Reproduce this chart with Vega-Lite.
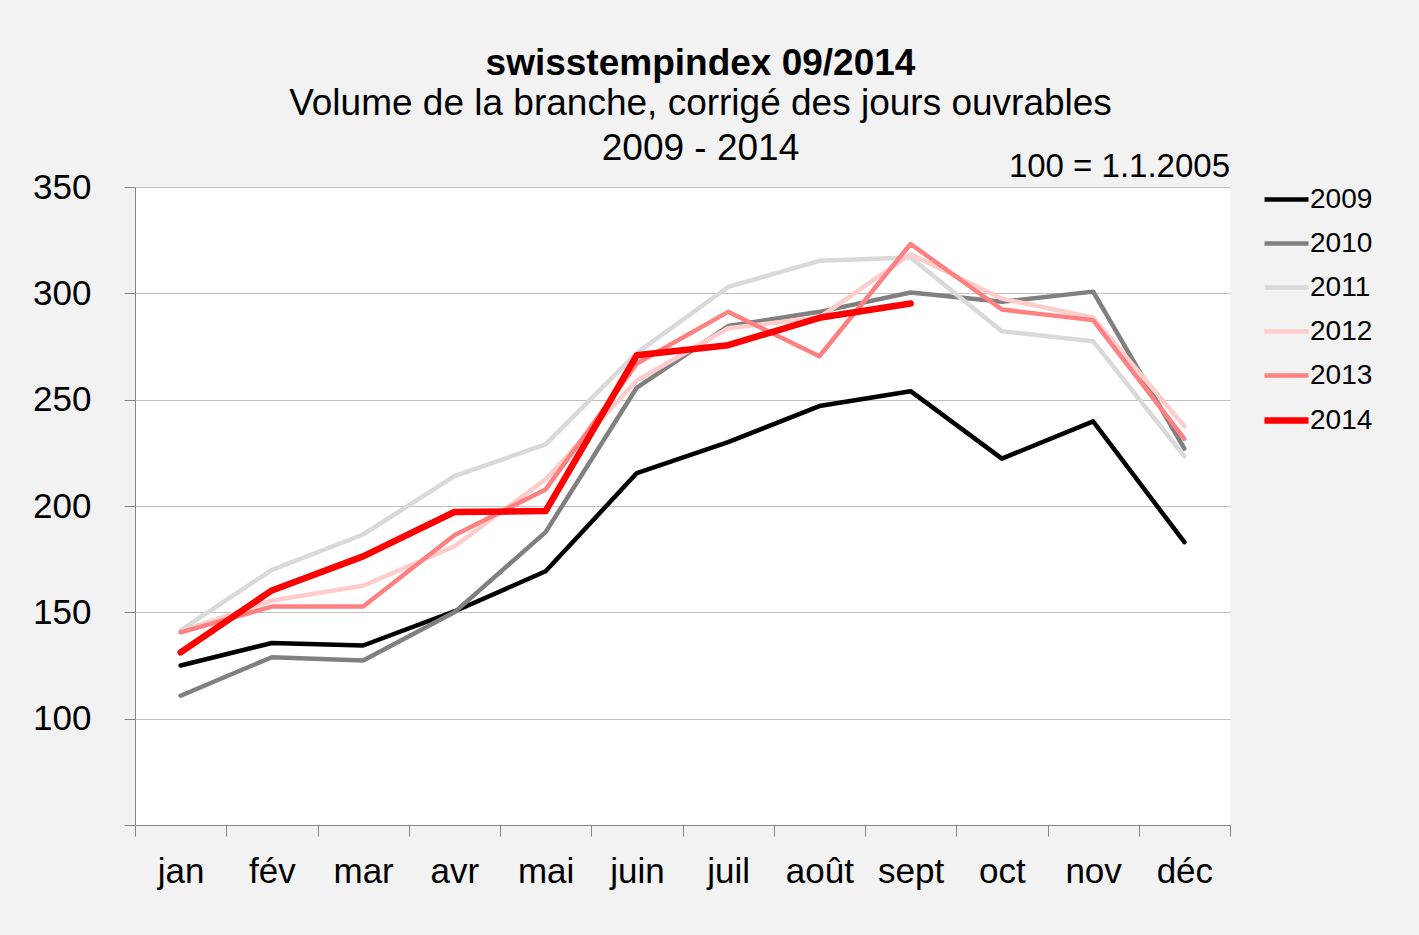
{
  "$schema": "https://vega.github.io/schema/vega-lite/v6.json",
  "autosize": {"type": "none"},
  "padding": {"left": 135, "top": 187, "right": 189, "bottom": 110},
  "width": 1095,
  "height": 638,
  "background": "#f2f2f2",
  "title": {
    "text": "swisstempindex 09/2014",
    "subtitle": ["Volume de la branche, corrigé des jours ouvrables", "2009 - 2014"],
    "fontSize": 37,
    "fontWeight": "bold",
    "font": "Liberation Sans",
    "subtitleFont": "Liberation Sans",
    "subtitleFontSize": 37,
    "subtitleLineHeight": 45,
    "subtitlePadding": 3,
    "color": "#000000",
    "subtitleColor": "#000000",
    "anchor": "middle",
    "frame": "group",
    "dx": 18,
    "offset": -17
  },
  "config": {
    "font": "Liberation Sans",
    "view": {"fill": "#ffffff", "stroke": null},
    "axis": {"domainColor": "#868686", "tickColor": "#868686", "labelColor": "#000000", "labelFont": "Liberation Sans"}
  },
  "layer": [
    {
      "data": {
        "values": [
          {"month": "jan", "year": "2009", "value": 125},
          {"month": "fév", "year": "2009", "value": 135.6},
          {"month": "mar", "year": "2009", "value": 134.4},
          {"month": "avr", "year": "2009", "value": 150.4},
          {"month": "mai", "year": "2009", "value": 169.3},
          {"month": "juin", "year": "2009", "value": 215.5},
          {"month": "juil", "year": "2009", "value": 230},
          {"month": "août", "year": "2009", "value": 247},
          {"month": "sept", "year": "2009", "value": 254},
          {"month": "oct", "year": "2009", "value": 222.3},
          {"month": "nov", "year": "2009", "value": 239.8},
          {"month": "déc", "year": "2009", "value": 183},
          {"month": "jan", "year": "2010", "value": 110.8},
          {"month": "fév", "year": "2010", "value": 128.9},
          {"month": "mar", "year": "2010", "value": 127.3},
          {"month": "avr", "year": "2010", "value": 150},
          {"month": "mai", "year": "2010", "value": 187.7},
          {"month": "juin", "year": "2010", "value": 255.7},
          {"month": "juil", "year": "2010", "value": 284.6},
          {"month": "août", "year": "2010", "value": 291.3},
          {"month": "sept", "year": "2010", "value": 300.4},
          {"month": "oct", "year": "2010", "value": 296},
          {"month": "nov", "year": "2010", "value": 300.8},
          {"month": "déc", "year": "2010", "value": 227},
          {"month": "jan", "year": "2011", "value": 141.5},
          {"month": "fév", "year": "2011", "value": 170},
          {"month": "mar", "year": "2011", "value": 186.6},
          {"month": "avr", "year": "2011", "value": 214},
          {"month": "mai", "year": "2011", "value": 229},
          {"month": "juin", "year": "2011", "value": 272},
          {"month": "juil", "year": "2011", "value": 303},
          {"month": "août", "year": "2011", "value": 315.3},
          {"month": "sept", "year": "2011", "value": 316.9},
          {"month": "oct", "year": "2011", "value": 282.2},
          {"month": "nov", "year": "2011", "value": 277.5},
          {"month": "déc", "year": "2011", "value": 223.4},
          {"month": "jan", "year": "2012", "value": 141},
          {"month": "fév", "year": "2012", "value": 155.6},
          {"month": "mar", "year": "2012", "value": 162.5},
          {"month": "avr", "year": "2012", "value": 181},
          {"month": "mai", "year": "2012", "value": 212.5},
          {"month": "juin", "year": "2012", "value": 259},
          {"month": "juil", "year": "2012", "value": 283.6},
          {"month": "août", "year": "2012", "value": 288.6},
          {"month": "sept", "year": "2012", "value": 318.4},
          {"month": "oct", "year": "2012", "value": 297.5},
          {"month": "nov", "year": "2012", "value": 288.6},
          {"month": "déc", "year": "2012", "value": 237.5},
          {"month": "jan", "year": "2013", "value": 140.6},
          {"month": "fév", "year": "2013", "value": 152.7},
          {"month": "mar", "year": "2013", "value": 152.7},
          {"month": "avr", "year": "2013", "value": 186.2},
          {"month": "mai", "year": "2013", "value": 207.8},
          {"month": "juin", "year": "2013", "value": 267},
          {"month": "juil", "year": "2013", "value": 291.3},
          {"month": "août", "year": "2013", "value": 270.4},
          {"month": "sept", "year": "2013", "value": 323.2},
          {"month": "oct", "year": "2013", "value": 292.4},
          {"month": "nov", "year": "2013", "value": 287.4},
          {"month": "déc", "year": "2013", "value": 231.6},
          {"month": "jan", "year": "2014", "value": 131.2},
          {"month": "fév", "year": "2014", "value": 160.3},
          {"month": "mar", "year": "2014", "value": 176.3},
          {"month": "avr", "year": "2014", "value": 197.2},
          {"month": "mai", "year": "2014", "value": 197.6},
          {"month": "juin", "year": "2014", "value": 270.9},
          {"month": "juil", "year": "2014", "value": 275.6},
          {"month": "août", "year": "2014", "value": 288.5},
          {"month": "sept", "year": "2014", "value": 295.2}
        ]
      },
      "mark": {"type": "line", "strokeCap": "round", "strokeJoin": "round"},
      "encoding": {
        "x": {
          "field": "month",
          "type": "ordinal",
          "sort": ["jan", "fév", "mar", "avr", "mai", "juin", "juil", "août", "sept", "oct", "nov", "déc"],
          "scale": {"type": "band", "paddingInner": 0, "paddingOuter": 0},
          "axis": {
            "title": null,
            "labelAngle": 0,
            "labelFontSize": 35,
            "tickBand": "extent",
            "tickSize": 11,
            "labelBaseline": "alphabetic",
            "labelPadding": 46,
            "grid": false
          }
        },
        "y": {
          "field": "value",
          "type": "quantitative",
          "scale": {"domain": [50, 350], "nice": false, "zero": false},
          "axis": {
            "title": null,
            "values": [50, 100, 150, 200, 250, 300, 350],
            "labelExpr": "datum.value == 50 ? '' : datum.label",
            "labelFontSize": 35,
            "tickSize": 11,
            "labelPadding": 33,
            "grid": true,
            "gridColor": "#c0c0c0",
            "gridWidth": 1
          }
        },
        "color": {
          "field": "year",
          "type": "nominal",
          "scale": {
            "domain": ["2009", "2010", "2011", "2012", "2013", "2014"],
            "range": ["#000000", "#808080", "#d9d9d9", "#ffcccc", "#ff8080", "#ff0000"]
          },
          "legend": {
            "title": null,
            "orient": "none",
            "legendX": 1126,
            "legendY": -12,
            "symbolType": "stroke",
            "symbolSize": 1936,
            "labelFontSize": 28,
            "labelColor": "#000000",
            "labelOffset": -2,
            "rowPadding": 5
          }
        },
        "strokeWidth": {
          "field": "year",
          "type": "nominal",
          "scale": {
            "type": "ordinal",
            "domain": ["2009", "2010", "2011", "2012", "2013", "2014"],
            "range": [4.5, 4.5, 4.5, 4.5, 4.5, 6.5]
          },
          "legend": {
            "title": null,
            "orient": "none",
            "legendX": 1126,
            "legendY": -12,
            "symbolType": "stroke",
            "symbolSize": 1936,
            "labelFontSize": 28,
            "labelColor": "#000000",
            "labelOffset": -2,
            "rowPadding": 5
          }
        }
      }
    },
    {
      "data": {"values": [{"note": "100 = 1.1.2005"}]},
      "mark": {"type": "text", "align": "right", "baseline": "alphabetic", "fontSize": 33, "dy": -10, "color": "#000000"},
      "encoding": {
        "x": {"datum": "déc", "type": "ordinal", "bandPosition": 1},
        "y": {"datum": 350, "type": "quantitative"},
        "text": {"field": "note", "type": "nominal"}
      }
    }
  ]
}
